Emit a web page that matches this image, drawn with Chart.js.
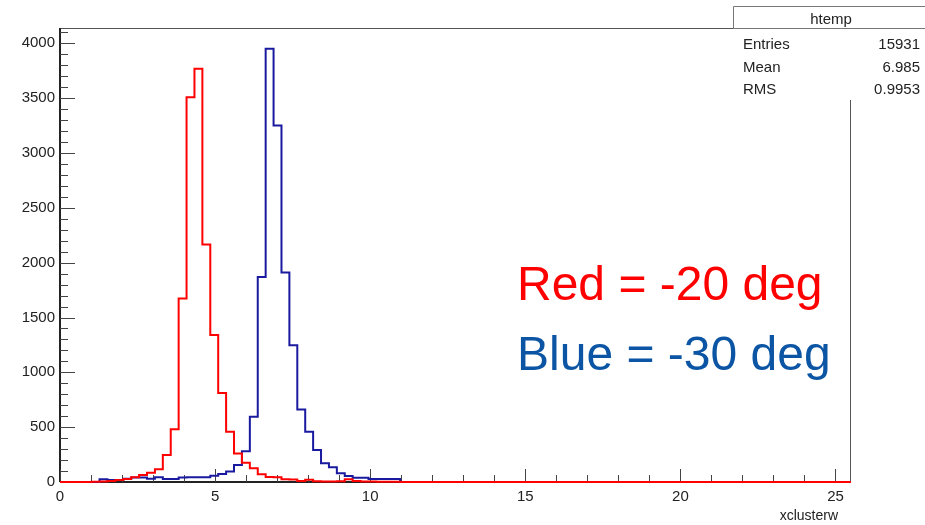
<!DOCTYPE html>
<html>
<head>
<meta charset="utf-8">
<script src="https://cdn.jsdelivr.net/npm/chart.js@4.4.1/dist/chart.umd.min.js"></script>
<style>
  html, body { margin: 0; padding: 0; background: #ffffff; }
  #wrap { position: relative; width: 925px; height: 525px; }
  canvas { display: block; }
</style>
</head>
<body>
<div id="wrap"><canvas id="c" width="925" height="525"></canvas></div>
<script>
// ---- histogram definition (100 bins from 0 to 25.5) ----
const binLow = 0;
const binHigh = 25.5;
const nBins = 100;

// Red = -20 deg
const redCounts = [
  0,0,0,0,2,5,10,18,27,43,
  64,85,116,246,480,1673,3509,3768,2165,1340,
  812,458,261,176,125,70,46,43,25,22,
  8,20,6,5,5,6,25,8,5,4,
  3,2,2,1,0,0,0,0,0,0,
  0,0,0,0,0,0,0,0,0,0,
  0,0,0,0,0,0,0,0,0,0,
  0,0,0,0,0,0,0,0,0,0,
  0,0,0,0,0,0,0,0,0,0,
  0,0,0,0,0,0,0,0,0,0
];

// Blue = -30 deg (htemp)
const blueCounts = [
  0,0,0,0,0,25,18,18,30,40,
  40,30,43,27,27,40,43,43,43,58,
  73,95,155,280,595,1870,3950,3251,1910,1248,
  662,458,291,170,134,79,55,39,39,27,
  27,27,27,0,0,0,0,0,0,0,
  0,0,0,0,0,0,0,0,0,0,
  0,0,0,0,0,0,0,0,0,0,
  0,0,0,0,0,0,0,0,0,0,
  0,0,0,0,0,0,0,0,0,0,
  0,0,0,0,0,0,0,0,0,0
];

const xTickLabels = [0, 5, 10, 15, 20, 25];
const yTickLabels = [0, 500, 1000, 1500, 2000, 2500, 3000, 3500, 4000];
const statsRows = [["Entries", "15931"], ["Mean", "6.985"], ["RMS", "0.9953"]];
const statsTitle = "htemp";
const xTitle = "xclusterw";
const notes = [["Red = -20 deg", "#ff0000"], ["Blue = -30 deg", "#0b55a4"]];

function histPoints(counts) {
  const w = (binHigh - binLow) / nBins;
  const pts = counts.map((c, i) => ({ x: binLow + i * w, y: c }));
  pts.push({ x: binHigh, y: counts[counts.length - 1] });
  return pts;
}

const FONT = "'Liberation Sans', Arial, Helvetica, sans-serif";

const framePlugin = {
  id: 'frame',
  beforeDatasetsDraw(chart) {
    const { ctx, chartArea: a, scales: { x, y } } = chart;
    ctx.save();
    // frame
    ctx.strokeStyle = '#555';
    ctx.lineWidth = 1;
    ctx.strokeRect(a.left + 0.5, a.top + 0.5, a.right - a.left - 1, a.bottom - a.top);
    // axes (darker)
    ctx.strokeStyle = '#222';
    ctx.lineWidth = 2;
    ctx.beginPath();
    ctx.moveTo(a.left, a.top); ctx.lineTo(a.left, a.bottom);
    ctx.moveTo(a.left, a.bottom); ctx.lineTo(a.right, a.bottom);
    ctx.stroke();
    // ticks inside the frame
    ctx.strokeStyle = '#444';
    ctx.lineWidth = 1;
    ctx.beginPath();
    for (let v = 0; v <= 4100; v += 100) {
      const py = Math.round(y.getPixelForValue(v)) + 0.5;
      const len = (v % 500 === 0) ? 15 : 8;
      ctx.moveTo(a.left, py); ctx.lineTo(a.left + len, py);
    }
    for (let v = 0; v <= 25; v += 1) {
      const px = Math.round(x.getPixelForValue(v)) + 0.5;
      const len = (v % 5 === 0) ? 13 : 7;
      ctx.moveTo(px, a.bottom); ctx.lineTo(px, a.bottom - len);
    }
    ctx.stroke();
    ctx.restore();
  },
  afterDraw(chart) {
    const { ctx, chartArea: a } = chart;
    ctx.save();
    // axis title
    ctx.fillStyle = '#222';
    ctx.font = '14px ' + FONT;
    ctx.textAlign = 'right';
    ctx.textBaseline = 'alphabetic';
    ctx.fillText(xTitle, a.right - 13, 520);
    // stats box
    const bx = 733, by = 6;
    ctx.fillStyle = '#ffffff';
    ctx.fillRect(bx, by, 925 - bx, 94);
    ctx.strokeStyle = '#777';
    ctx.lineWidth = 1;
    ctx.beginPath();
    ctx.moveTo(bx + 0.5, 28.5); ctx.lineTo(bx + 0.5, by + 0.5); ctx.lineTo(925, by + 0.5);
    ctx.moveTo(bx, 28.5); ctx.lineTo(925, 28.5);
    ctx.stroke();
    ctx.fillStyle = '#222';
    ctx.font = '15px ' + FONT;
    ctx.textAlign = 'center';
    ctx.fillText(statsTitle, 831, 24);
    statsRows.forEach((r, i) => {
      const base = 49 + i * 22.5;
      ctx.textAlign = 'left';
      ctx.fillText(r[0], 743, base);
      ctx.textAlign = 'right';
      ctx.fillText(r[1], 920, base);
    });
    // annotations
    ctx.font = '48px ' + FONT;
    ctx.textAlign = 'left';
    notes.forEach((n, i) => {
      ctx.fillStyle = n[1];
      ctx.fillText(n[0], 517, 300 + i * 70);
    });
    ctx.restore();
  }
};

new Chart(document.getElementById('c'), {
  type: 'line',
  data: {
    datasets: [
      { label: 'Red = -20 deg', data: histPoints(redCounts), borderColor: '#ff0000', clip: false, order: 0 },
      { label: 'Blue = -30 deg', data: histPoints(blueCounts), borderColor: '#1a1aa0', clip: false, order: 1 }
    ]
  },
  options: {
    responsive: false,
    animation: false,
    events: [],
    layout: { padding: { left: 0, top: 28, right: 74, bottom: 0 } },
    elements: {
      point: { radius: 0 },
      line: { borderWidth: 2, stepped: 'before', tension: 0, fill: false }
    },
    plugins: { legend: { display: false }, tooltip: { enabled: false }, title: { display: false } },
    scales: {
      x: {
        type: 'linear', min: binLow, max: binHigh,
        grid: { display: false, drawTicks: false },
        border: { display: false },
        afterBuildTicks(s) { s.ticks = xTickLabels.map(v => ({ value: v })); },
        afterFit(s) { s.height = 43; },
        ticks: { color: '#222', font: { family: FONT, size: 15 }, padding: 6, maxRotation: 0, autoSkip: false,
                 callback: v => String(v) }
      },
      y: {
        type: 'linear', min: 0, max: 4140,
        grid: { display: false, drawTicks: false },
        border: { display: false },
        afterBuildTicks(s) { s.ticks = yTickLabels.map(v => ({ value: v })); },
        afterFit(s) { s.width = 60; },
        ticks: { color: '#222', font: { family: FONT, size: 15 }, padding: 5, callback: v => String(v) }
      }
    }
  },
  plugins: [framePlugin]
});
</script>
</body>
</html>
